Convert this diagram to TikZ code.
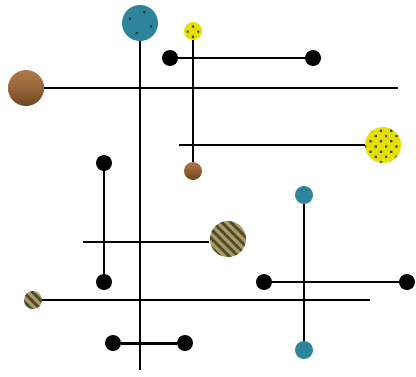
\documentclass[tikz,border=0pt]{standalone}
\usepackage{tikz}
\usetikzlibrary{positioning,patterns.meta}
\definecolor{tealball}{RGB}{46,132,155}
\definecolor{yellowball}{RGB}{228,224,0}
\definecolor{woodlight}{RGB}{176,120,70}
\definecolor{wooddark}{RGB}{112,68,30}
\definecolor{olivelight}{RGB}{168,156,100}
\definecolor{olivedark}{RGB}{80,74,44}

\begin{document}
\begin{tikzpicture}[x=0.02cm, y=-0.02cm,
  ball/.style={circle, inner sep=0pt, minimum size=0.72cm},
  smallball/.style={circle, inner sep=0pt, minimum size=0.36cm},
  blackdot/.style={circle, fill=black, inner sep=0pt, minimum size=0.32cm},
  tealdots/.style={preaction={fill=tealball}, pattern={Dots[distance=9pt, radius=0.9pt, angle=25]}, pattern color=tealball!45!black},
  yellowdots/.style={preaction={fill=yellowball}, pattern={Dots[distance=4.2pt, radius=0.9pt, angle=45]}, pattern color=black!75},
  woodgrain/.style={top color=woodlight, bottom color=wooddark, middle color=woodlight!85!black},
  stripes/.style={preaction={fill=olivelight}, pattern={Lines[angle=-45, distance=3.6pt, line width=1.6pt]}, pattern color=olivedark},
  rod/.style={line width=1.1pt},
  bar/.style={line width=1.7pt}]
\useasboundingbox (0,0) rectangle (416,376);

% balls
\node[ball, tealdots] (tealbig) at (140,23) {};
\node[smallball, yellowdots] (yellowsmall) at (193,31) {};
\node[ball, woodgrain] (wood) at (26,88) {};
\node[smallball, top color=woodlight, bottom color=wooddark] (woodsmall) at (193,171) {};
\node[ball, yellowdots] (yellowbig) at (383,145) {};
\node[ball, stripes] (stripebig) at (228,239) {};
\node[smallball, stripes] (stripesmall) at (33,300) {};
\node[smallball, fill=tealball] (tealtop) at (304,195) {};
\node[smallball, fill=tealball] (tealbottom) at (304,350) {};

% black dots
\node[blackdot] (d1) at (170,58) {};
\node[blackdot] (d2) at (313,58) {};
\node[blackdot] (d3) at (104,163) {};
\node[blackdot] (d4) at (104,282) {};
\node[blackdot] (d5) at (264,282) {};
\node[blackdot] (d6) at (407,282) {};
\node[blackdot] (d7) at (113,343) {};
\node[blackdot] (d8) at (185,343) {};

% free ends
\coordinate (tealend) at (140,370);
\coordinate (woodend) at (398,88);
\coordinate (yellowstart) at (179,145);
\coordinate (stripestart) at (83,242);
\coordinate (stripeend) at (370,300);

% thin rods
\draw[rod] (tealbig) -- (tealend);
\draw[rod] (yellowsmall) -- (woodsmall);
\draw[rod] (wood) -- (woodend);
\draw[rod] (yellowstart) -- (yellowbig);
\draw[rod] (stripestart) -- (stripestart -| stripebig.west);
\draw[rod] (stripesmall) -- (stripeend);
\draw[rod] (tealtop) -- (tealbottom);

% thick bars
\draw[bar] (d1) -- (d2);
\draw[bar] (d3) -- (d4);
\draw[bar] (d5) -- (d6);
\draw[bar] (d7) -- (d8);
\end{tikzpicture}
\end{document}
